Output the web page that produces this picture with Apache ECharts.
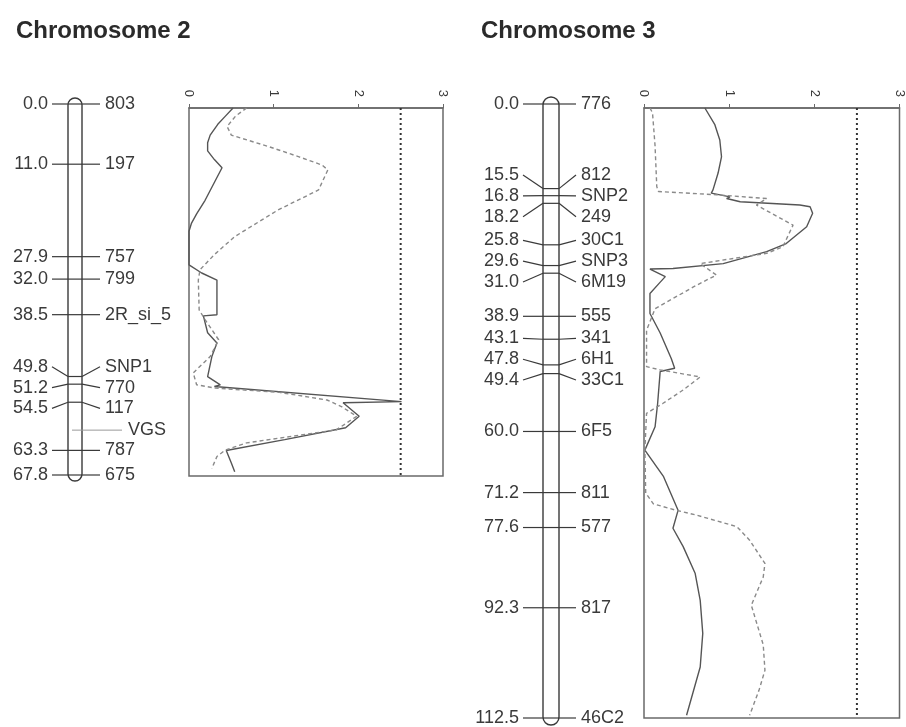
<!DOCTYPE html>
<html>
<head>
<meta charset="utf-8">
<script src="https://cdn.jsdelivr.net/npm/echarts@6/dist/echarts.min.js"></script>
<style>
html,body{margin:0;padding:0;background:#fff;}
#chart{width:906px;height:727px;}
</style>
</head>
<body>
<div id="chart"></div>
<script>
// ---------- DATA ----------
const titles = ['Chromosome 2', 'Chromosome 3'];

const ch2Pos = [0.0, 11.0, 27.9, 32.0, 38.5, 49.8, 51.2, 54.5, 63.3, 67.8];
const ch2Names = ['803', '197', '757', '799', '2R_si_5', 'SNP1', '770', '117', '787', '675'];
const ch2QtlNames = ['VGS'];
const ch2QtlPos = [59.6];

const ch3Pos = [0.0, 15.5, 16.8, 18.2, 25.8, 29.6, 31.0, 38.9, 43.1, 47.8, 49.4, 60.0, 71.2, 77.6, 92.3, 112.5];
const ch3Names = ['776', '812', 'SNP2', '249', '30C1', 'SNP3', '6M19', '555', '341', '6H1', '33C1', '6F5', '811', '577', '817', '46C2'];

const lodTicks = [0, 1, 2, 3];
const lodThreshold = 2.5;

// [position cM, LOD]
const ch2Solid = [[0,0.52],[1.5,0.43],[3,0.34],[5,0.25],[6.4,0.22],[7.9,0.22],[9.5,0.30],[11.0,0.39],[14,0.29],[17,0.19],[19.5,0.09],[21.2,0.03],[22.7,0.0],[28.9,0.0],[30.4,0.15],[31.7,0.33],[38.1,0.33],[38.3,0.17],[41.4,0.22],[43.3,0.33],[45.8,0.27],[49.5,0.22],[51.0,0.37],[51.3,0.30],[54.1,2.51],[54.3,1.82],[56.8,2.01],[58.9,1.85],[61.1,1.13],[63.1,0.44],[65.4,0.50],[67.0,0.54]];
const ch2Dashed = [[0,0.68],[1.5,0.55],[3.4,0.45],[5,0.50],[7.1,0.94],[9,1.30],[10.5,1.57],[11.4,1.64],[15.1,1.53],[18.8,1.05],[23.7,0.54],[27,0.30],[29.8,0.13],[31.7,0.11],[37.2,0.12],[39,0.19],[42.7,0.35],[45.8,0.25],[48.8,0.05],[51,0.09],[51.6,0.31],[52.4,1.07],[53.8,1.63],[55,1.80],[56.8,1.98],[59.3,1.74],[61.7,0.68],[63,0.43],[64.2,0.33],[66.4,0.27]];

const ch3Solid = [[0,0.715],[3,0.83],[5.9,0.89],[9,0.91],[12,0.87],[15.1,0.81],[15.7,0.79],[16.4,1.01],[16.7,0.97],[17.3,1.13],[17.9,1.83],[18.2,1.95],[19.4,1.98],[21.9,1.91],[25,1.67],[26.5,1.44],[28.7,0.93],[29.6,0.34],[29.7,0.07],[31.1,0.25],[32.3,0.18],[34.2,0.07],[37.9,0.07],[41.5,0.19],[46.2,0.32],[48,0.36],[48.6,0.19],[54.5,0.16],[58.8,0.13],[63.1,0.01],[68,0.23],[74.2,0.40],[77.5,0.34],[80.9,0.46],[85.8,0.60],[90.8,0.66],[96.9,0.69],[103.1,0.66],[112,0.50]];
const ch3Dashed = [[0,0.07],[0.9,0.10],[7,0.13],[14.5,0.15],[15.4,0.17],[16,0.85],[16.7,1.44],[17.9,1.32],[21.6,1.75],[25.6,1.63],[26.8,1.44],[28.7,0.66],[30.8,0.85],[33,0.58],[37,0.13],[41,0.03],[47.7,0.03],[48.3,0.19],[49.6,0.66],[52,0.46],[54.5,0.22],[56.3,0.03],[63.1,0.01],[71,0.02],[73,0.11],[74.2,0.38],[75.1,0.62],[77.2,1.09],[79.7,1.24],[84,1.42],[86.5,1.40],[91.7,1.26],[99,1.40],[103.7,1.42],[107.4,1.35],[112,1.24]];

// ---------- LAYOUT / STYLE ----------
const FONT = "'Liberation Sans', Arial, sans-serif";
const TXT = '#3a3a3a';
const LINE = '#3a3a3a';
const LABEL_GAP_PX = 20.8;

const maps = [
  { pos: ch2Pos, names: ch2Names, qtlNames: ch2QtlNames, qtlPos: ch2QtlPos,
    grid: { left: 70, top: 104, width: 10, height: 371 }, half: 7, lenL: 16, lenR: 18 },
  { pos: ch3Pos, names: ch3Names, qtlNames: [], qtlPos: [],
    grid: { left: 546, top: 104, width: 10, height: 614 }, half: 8, lenL: 20, lenR: 17 }
];
const lods = [
  { solid: ch2Solid, dashed: ch2Dashed, len: ch2Pos[ch2Pos.length-1], grid: { left: 189, top: 108, width: 254, height: 368 } },
  { solid: ch3Solid, dashed: ch3Dashed, len: ch3Pos[ch3Pos.length-1], grid: { left: 644, top: 108, width: 256, height: 610 } }
];

function spreadLabels(pos, gap) {
  let clusters = pos.map((p, i) => ({ idx: [i], center: p }));
  let changed = true;
  while (changed) {
    changed = false;
    for (let k = 1; k < clusters.length; k++) {
      const a = clusters[k-1], b = clusters[k];
      const aLast = a.center + (a.idx.length - 1) / 2 * gap;
      const bFirst = b.center - (b.idx.length - 1) / 2 * gap;
      if (bFirst - aLast < gap - 1e-9) {
        const idx = a.idx.concat(b.idx);
        const center = idx.reduce((s, i) => s + pos[i], 0) / idx.length;
        clusters.splice(k-1, 2, { idx: idx, center: center });
        changed = true;
        break;
      }
    }
  }
  const out = [];
  clusters.forEach(c => c.idx.forEach((i, j) => { out[i] = c.center + (j - (c.idx.length - 1) / 2) * gap; }));
  return out;
}

const grids = [], xAxes = [], yAxes = [], series = [];

maps.forEach((m, k) => {
  const L = m.pos[m.pos.length - 1];
  const gapCm = LABEL_GAP_PX / (m.grid.height / L);
  const lab = spreadLabels(m.pos, gapCm);
  const gi = grids.length;
  grids.push(Object.assign({ show: false }, m.grid));
  xAxes.push({ gridIndex: gi, type: 'value', min: 0, max: 1, show: false });
  yAxes.push({ gridIndex: gi, type: 'value', min: 0, max: L, inverse: true, show: false });
  // chromosome outline
  series.push({
    type: 'custom', xAxisIndex: gi, yAxisIndex: gi, silent: true, z: 2,
    data: [[0.5, 0, L]],
    renderItem: function (params, api) {
      const t = api.coord([api.value(0), api.value(1)]);
      const b = api.coord([api.value(0), api.value(2)]);
      return { type: 'rect',
        shape: { x: t[0] - m.half, y: t[1] - m.half + 1, width: 2 * m.half, height: b[1] - t[1] + 2 * m.half - 2, r: m.half },
        style: { fill: 'rgba(0,0,0,0)', stroke: LINE, lineWidth: 1.4 } };
    }
  });
  // markers
  series.push({
    type: 'custom', xAxisIndex: gi, yAxisIndex: gi, silent: true, z: 3,
    data: m.pos.map((p, i) => [0.5, p, lab[i]]),
    renderItem: function (params, api) {
      const c = api.coord([api.value(0), api.value(1)]);
      const l = api.coord([api.value(0), api.value(2)]);
      const xL = c[0] - m.half, xR = c[0] + m.half;
      const ls = { stroke: LINE, lineWidth: 1.2 };
      return { type: 'group', children: [
        { type: 'line', shape: { x1: xL - m.lenL, y1: l[1], x2: xL, y2: c[1] }, style: ls },
        { type: 'line', shape: { x1: xL, y1: c[1], x2: xR, y2: c[1] }, style: ls },
        { type: 'line', shape: { x1: xR, y1: c[1], x2: xR + m.lenR, y2: l[1] }, style: ls },
        { type: 'text', style: { x: xL - m.lenL - 4, y: l[1], text: m.pos[params.dataIndex].toFixed(1),
            align: 'right', verticalAlign: 'middle', fontSize: 18, fontFamily: FONT, fill: TXT } },
        { type: 'text', style: { x: xR + m.lenR + 5, y: l[1], text: m.names[params.dataIndex],
            align: 'left', verticalAlign: 'middle', fontSize: 18, fontFamily: FONT, fill: TXT } }
      ] };
    }
  });
  if (m.qtlPos.length) {
    series.push({
      type: 'custom', xAxisIndex: gi, yAxisIndex: gi, silent: true, z: 3,
      data: m.qtlPos.map(p => [0.5, p]),
      renderItem: function (params, api) {
        const c = api.coord([api.value(0), api.value(1)]);
        return { type: 'group', children: [
          { type: 'line', shape: { x1: c[0] - m.half + 4, y1: c[1], x2: c[0] + m.half + 40, y2: c[1] },
            style: { stroke: '#9a9a9a', lineWidth: 1 } },
          { type: 'text', style: { x: c[0] + m.half + 46, y: c[1], text: m.qtlNames[params.dataIndex],
              align: 'left', verticalAlign: 'middle', fontSize: 18, fontFamily: FONT, fill: TXT } }
        ] };
      }
    });
  }
});

lods.forEach((d, k) => {
  const gi = grids.length;
  grids.push(Object.assign({ show: true, borderColor: '#6a6a6a', borderWidth: 1.5, backgroundColor: '#fff' }, d.grid));
  xAxes.push({ gridIndex: gi, type: 'value', position: 'top', min: lodTicks[0], max: lodTicks[lodTicks.length-1], interval: 1,
    axisLine: { show: true, lineStyle: { color: '#6a6a6a', width: 1.5 } },
    axisTick: { show: true, length: 4, lineStyle: { color: '#6a6a6a' } },
    splitLine: { show: false },
    axisLabel: { rotate: -90, margin: 11, fontSize: 13, fontFamily: FONT, color: TXT } });
  yAxes.push({ gridIndex: gi, type: 'value', min: 0, max: d.len, inverse: true, show: false });
  series.push({ type: 'line', xAxisIndex: gi, yAxisIndex: gi, silent: true, showSymbol: false, symbol: 'none',
    data: d.solid.map(p => [p[1], p[0]]), lineStyle: { color: '#555', width: 1.4 }, z: 3 });
  series.push({ type: 'line', xAxisIndex: gi, yAxisIndex: gi, silent: true, showSymbol: false, symbol: 'none',
    data: d.dashed.map(p => [p[1], p[0]]), lineStyle: { color: '#8a8a8a', width: 1.4, type: [4, 3] }, z: 3 });
  series.push({ type: 'line', xAxisIndex: gi, yAxisIndex: gi, silent: true, showSymbol: false, symbol: 'none',
    data: [[lodThreshold, 0], [lodThreshold, d.len]], lineStyle: { color: '#333', width: 2, type: [2, 3] }, z: 2 });
});

const chart = echarts.init(document.getElementById('chart'), null, { renderer: 'canvas' });
chart.setOption({
  animation: false,
  backgroundColor: '#fff',
  title: [
    { text: titles[0], left: 11, top: 14, textStyle: { fontSize: 24, fontWeight: 'bold', fontFamily: FONT, color: '#2a2a2a' } },
    { text: titles[1], left: 476, top: 14, textStyle: { fontSize: 24, fontWeight: 'bold', fontFamily: FONT, color: '#2a2a2a' } }
  ],
  grid: grids,
  xAxis: xAxes,
  yAxis: yAxes,
  series: series
});
</script>
</body>
</html>
